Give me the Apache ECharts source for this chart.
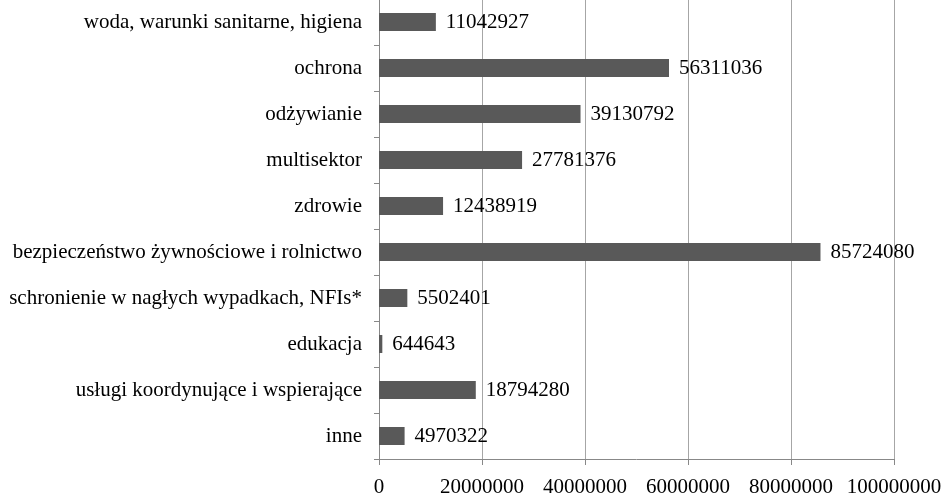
<!DOCTYPE html>
<html>
<head>
<meta charset="utf-8">
<script src="https://cdn.jsdelivr.net/npm/echarts@6/dist/echarts.min.js"></script>
<style>
html,body{margin:0;padding:0;background:#fff;}
#chartmain{width:945px;height:493px;}
</style>
</head>
<body>
<div id="chartmain"></div>
<script>
//kategorie (od góry)
var categories = ['woda, warunki sanitarne, higiena','ochrona','odżywianie','multisektor','zdrowie',
	'bezpieczeństwo żywnościowe i rolnictwo','schronienie w nagłych wypadkach, NFIs*','edukacja',
	'usługi koordynujące i wspierające','inne'];
//wartości
var values = [11042927,56311036,39130792,27781376,12438919,85724080,5502401,644643,18794280,4970322];
//oś x
var xMin = 0;
var xMax = 100000000;
var xStep = 20000000;

var myChart = echarts.init(document.getElementById('chartmain'));
var font = 'Liberation Serif, Times New Roman, serif';
myChart.setOption({
	animation:false,
	textStyle:{fontFamily:font},
	grid:{left:379,right:51,top:-1,bottom:34,outerBoundsMode:'none',containLabel:false},
	xAxis:{
		type:'value',
		min:xMin,
		max:xMax,
		interval:xStep,
		axisLine:{show:true,lineStyle:{color:'#888',width:1}},
		axisTick:{show:true,length:6,lineStyle:{color:'#888'}},
		axisLabel:{color:'#000',fontSize:21,fontFamily:font,margin:18,
			formatter:function(v){return String(v);}},
		splitLine:{show:true,lineStyle:{color:'#a6a6a6',width:1}}
	},
	yAxis:{
		type:'category',
		inverse:true,
		data:categories,
		axisLine:{show:true,lineStyle:{color:'#888',width:1}},
		axisTick:{show:true,length:5,lineStyle:{color:'#888'}},
		axisLabel:{color:'#000',fontSize:21,fontFamily:font,margin:17}
	},
	series:[{
		type:'bar',
		data:values,
		barWidth:18,
		itemStyle:{color:'#595959'},
		label:{show:true,position:'right',distance:10,color:'#000',fontSize:21,fontFamily:font}
	}]
});
</script>
</body>
</html>
